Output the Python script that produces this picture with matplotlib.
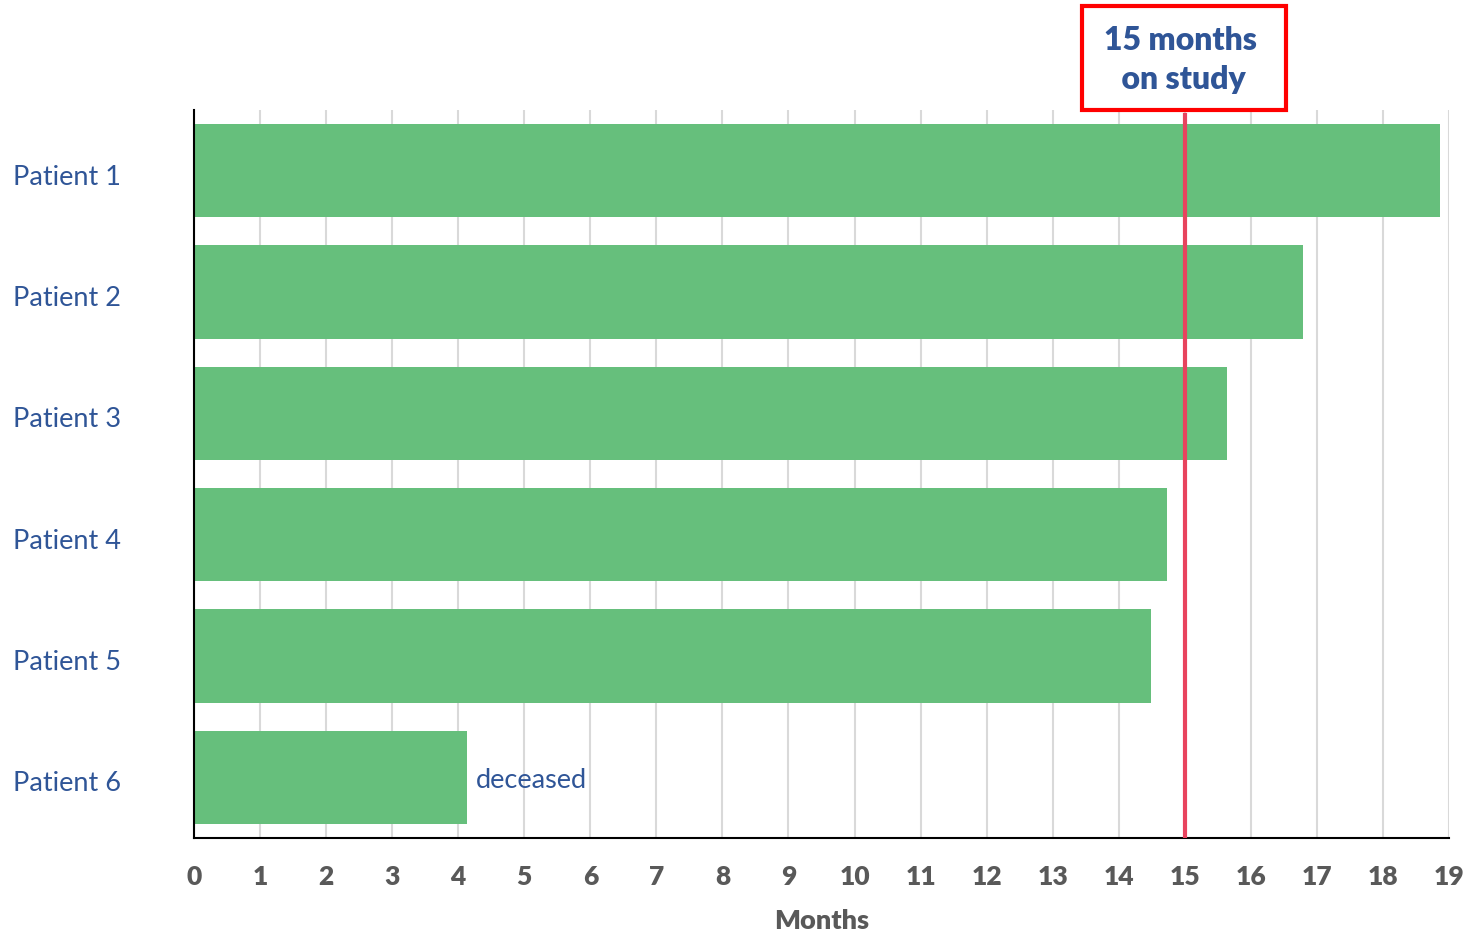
import matplotlib
matplotlib.use("Agg")
import matplotlib.pyplot as plt
from matplotlib.patches import Rectangle
from matplotlib.transforms import ScaledTranslation

patients = ["Patient 1", "Patient 2", "Patient 3", "Patient 4", "Patient 5", "Patient 6"]
months_on_study = [18.86, 16.79, 15.64, 14.73, 14.49, 4.13]
xticks = list(range(0, 20))
marker_month = 15
note_label = "deceased"
note_index = 5

plt.rcParams['font.family'] = ['Lato', 'DejaVu Sans']

fig = plt.figure(figsize=(14.65, 9.3), dpi=100)
ax = fig.add_axes([194/1465, 92/930, (1449-194)/1465, (838-110)/930])

ypos = list(range(len(patients)))
ax.barh(ypos, months_on_study, height=0.77, color="#66BF7C", zorder=2)
ax.set_ylim(len(patients) - 0.5, -0.5)
ax.set_xlim(0, 19)

ax.set_xticks(xticks)
ax.set_xticklabels([str(t) for t in xticks], fontsize=19, fontweight='heavy', color="#595959")
ax.tick_params(axis='x', length=0, pad=19.5)
ax.set_yticks(ypos)
ax.set_yticklabels(patients, fontsize=19.5, color="#2F5597", ha='left')
ax.tick_params(axis='y', length=0, pad=130)
down = ScaledTranslation(0, -4/100, fig.dpi_scale_trans)
for lbl in ax.get_yticklabels():
    lbl.set_transform(lbl.get_transform() + down)

ax.grid(axis='x', color="#D9D9D9", linewidth=1.5, zorder=0)
for s in ['top', 'right']:
    ax.spines[s].set_visible(False)
ax.spines['left'].set_linewidth(1.5)
ax.spines['bottom'].set_linewidth(1.5)

ax.axvline(marker_month, ymin=0, ymax=1 - 5/728, color="#E8435E", linewidth=3, zorder=3)

ax.text(months_on_study[note_index] + 0.13, note_index, note_label, fontsize=19.5,
        color="#2F5597", va='center', ha='left',
        transform=ax.transData + ScaledTranslation(0, -3/100, fig.dpi_scale_trans))

ax.set_xlabel("Months", fontsize=19.5, fontweight='heavy', color="#595959", labelpad=14)

# annotation box
fig.patches.append(Rectangle((1082/1465, 1 - 110/930), (1286-1082)/1465, (110-6)/930,
                             transform=fig.transFigure, fill=False, edgecolor="#FF0000",
                             linewidth=3))
fig.text(1180/1465, 1 - 60/930, "15 months\n on study", ha='center', va='center',
         fontsize=23, fontweight='heavy', color="#2F5597", linespacing=1.45)

fig.savefig("out.png", dpi=100, facecolor='white')
